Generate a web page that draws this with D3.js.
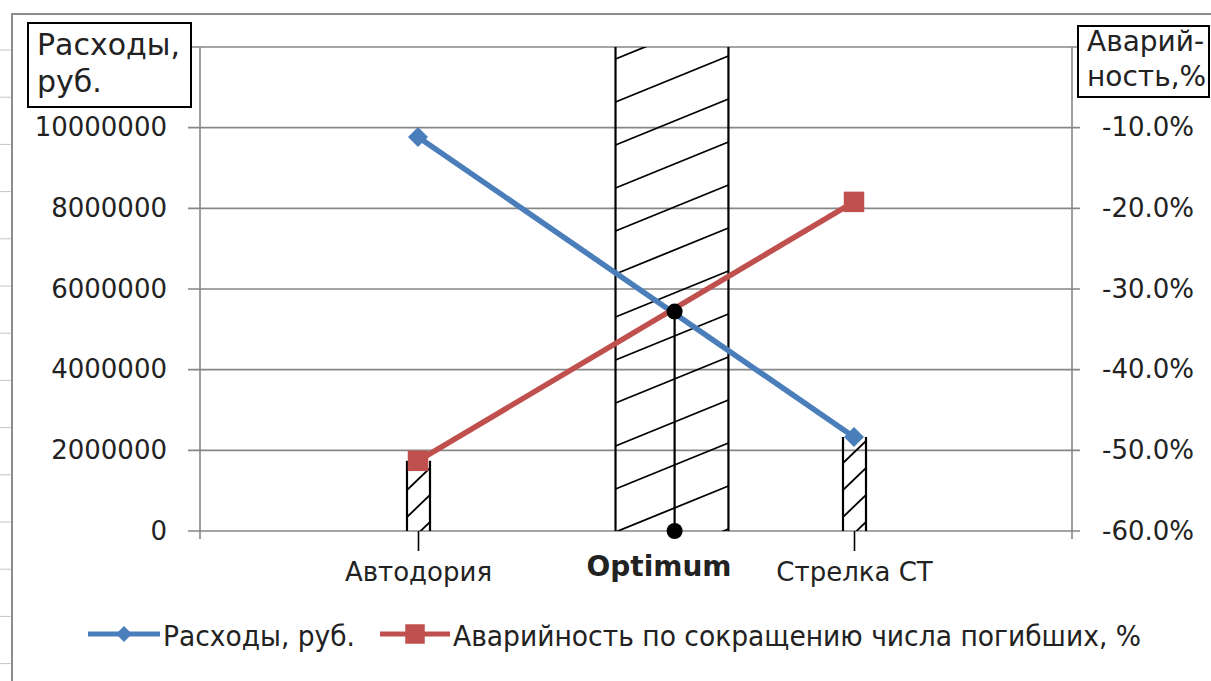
<!DOCTYPE html>
<html>
<head>
<meta charset="utf-8">
<script src="https://cdn.jsdelivr.net/npm/d3@7"></script>
<style>
  body { margin: 0; background: #fff; }
  svg { display: block; }
  text { font-family: "DejaVu Sans", sans-serif; fill: #222; }
</style>
</head>
<body>
<svg id="chart" width="1211" height="681"></svg>
<script>
// data
const categories = ['Автодория', 'Стрелка СТ'];
const costs = [9770000, 2330000];          // Расходы, руб.
const accidentRate = [-0.513, -0.192];      // Аварийность, доля
const costTicks = [0, 2000000, 4000000, 6000000, 8000000, 10000000];
const costGrid = [0, 2000000, 4000000, 6000000, 8000000, 10000000, 12000000];
const rateTicks = [-0.6, -0.5, -0.4, -0.3, -0.2, -0.1];
const optimumBand = [0.453, 0.712];        // in category-index units
const optimumLabel = 'Optimum';
const leftTitle = ['Расходы,', 'руб.'];
const rightTitle = ['Аварий-', 'ность,%'];
const legendLabels = ['Расходы, руб.', 'Аварийность по сокращению числа погибших, %'];

const BLUE = '#4a7ebb', RED = '#c0504d', GRID = '#878787';

const svg = d3.select('#chart');
const plot = { left: 200, right: 1072, top: 47, bottom: 531 };

/**
 * scales
 */
const x = d3.scalePoint()
    .domain(categories)
    .range([plot.left, plot.right])
    .padding(0.5);

const xi = d3.scaleLinear()
    .domain([0, 1])
    .range([x(categories[0]), x(categories[1])]);

const yCost = d3.scaleLinear()
    .domain([0, 12000000])
    .range([plot.bottom, plot.top]);

const yRate = d3.scaleLinear()
    .domain([-0.6, 0])
    .range([plot.bottom, plot.top]);

// spreadsheet background: frame and row marks on the left
svg.append('g')
    .attr('stroke', '#c4c4c4')
    .selectAll('line')
    .data(d3.range(50, 681, 47.2))
    .join('line')
    .attr('x1', 0).attr('x2', 11)
    .attr('y1', d => d).attr('y2', d => d);

svg.append('path')
    .attr('d', 'M12,681V14H1211')
    .attr('fill', 'none')
    .attr('stroke', '#8c8c8c')
    .attr('stroke-width', 2);

// gridlines (with the little outside ticks on both sides)
svg.append('g')
    .attr('stroke', GRID)
    .attr('stroke-width', 1.6)
    .selectAll('line')
    .data(costGrid)
    .join('line')
    .attr('x1', plot.left - 12)
    .attr('x2', plot.right + 8)
    .attr('y1', d => yCost(d))
    .attr('y2', d => yCost(d));

// axis lines
svg.append('g')
    .attr('stroke', GRID)
    .attr('stroke-width', 1.6)
    .selectAll('line')
    .data([plot.left, plot.right])
    .join('line')
    .attr('x1', d => d).attr('x2', d => d)
    .attr('y1', plot.top).attr('y2', plot.bottom + 8);

/**
 * Axis labels
 */
const leftAxis = svg.append('g')
    .attr('transform', `translate(${plot.left},0)`)
    .call(d3.axisLeft(yCost).tickValues(costTicks).tickSize(0).tickPadding(33).tickFormat(d3.format('d')));

const rightAxis = svg.append('g')
    .attr('transform', `translate(${plot.right},0)`)
    .call(d3.axisRight(yRate).tickValues(rateTicks).tickSize(0)
        .tickPadding(30)
        .tickFormat(d => d3.format('.1%')(d).replace('\u2212', '-')));

const bottomAxis = svg.append('g')
    .attr('transform', `translate(0,${plot.bottom})`)
    .call(d3.axisBottom(x).tickSize(20).tickPadding(12));

[leftAxis, rightAxis, bottomAxis].forEach(a => {
    a.select('.domain').remove();
    a.selectAll('text')
        .style('font-family', '"DejaVu Sans", sans-serif')
        .style('font-size', '26px')
        .attr('fill', '#222');
});
bottomAxis.selectAll('line').attr('stroke', '#000').attr('stroke-width', 1.6);

/**
 * Hatched areas
 */
function hatched(x0, x1, yTop, yBottom, firstY, step, rise, id) {
    const g = svg.append('g');
    g.append('clipPath').attr('id', id)
        .append('rect')
        .attr('x', x0).attr('y', yTop)
        .attr('width', x1 - x0).attr('height', yBottom - yTop);
    const starts = [];
    for (let y = firstY; y - rise > yTop - step; y -= step) starts.push(y);
    for (let y = firstY + step; y - rise < yBottom; y += step) starts.push(y);
    g.append('g')
        .attr('clip-path', `url(#${id})`)
        .attr('stroke', '#000')
        .attr('stroke-width', 1.8)
        .selectAll('line')
        .data(starts)
        .join('line')
        .attr('x1', x0).attr('y1', d => d)
        .attr('x2', x1).attr('y2', d => d - rise);
    g.append('g')
        .attr('stroke', '#000')
        .attr('stroke-width', 2.2)
        .selectAll('line')
        .data([x0, x1])
        .join('line')
        .attr('x1', d => d).attr('x2', d => d)
        .attr('y1', yTop).attr('y2', yBottom);
}

// optimum band
hatched(xi(optimumBand[0]), xi(optimumBand[1]), plot.top, plot.bottom, 59, 43, 46, 'clip-opt');

// narrow bars under the lower point of each category
categories.forEach((c, i) => {
    const lower = Math.max(yCost(costs[i]), yRate(accidentRate[i]));
    const cx = x(c);
    hatched(cx - 11, cx + 12, lower, plot.bottom, plot.bottom - 14, 27, 22, 'clip-bar' + i);
});

/**
 * Series lines
 */
const costPts = categories.map((c, i) => [x(c), yCost(costs[i])]);
const ratePts = categories.map((c, i) => [x(c), yRate(accidentRate[i])]);

const line = d3.line();
svg.append('path')
    .attr('d', line(costPts))
    .attr('fill', 'none')
    .attr('stroke', BLUE)
    .attr('stroke-width', 5.5);

svg.append('path')
    .attr('d', line(ratePts))
    .attr('fill', 'none')
    .attr('stroke', RED)
    .attr('stroke-width', 5.5);

// intersection of the two lines -> optimum point
const a1 = (costPts[1][1] - costPts[0][1]) / (costPts[1][0] - costPts[0][0]);
const a2 = (ratePts[1][1] - ratePts[0][1]) / (ratePts[1][0] - ratePts[0][0]);
const ix = costPts[0][0] + (ratePts[0][1] - costPts[0][1]) / (a1 - a2) + 4;
const iy = costPts[0][1] + a1 * (ix - costPts[0][0]) - 2;

svg.append('line')
    .attr('x1', ix).attr('x2', ix)
    .attr('y1', iy).attr('y2', plot.bottom)
    .attr('stroke', '#000')
    .attr('stroke-width', 2.2);

svg.append('g')
    .selectAll('circle')
    .data([iy, plot.bottom])
    .join('circle')
    .attr('cx', ix)
    .attr('cy', d => d)
    .attr('r', 8)
    .attr('fill', '#000');

// markers
const diamond = d3.symbol().type(d3.symbolSquare).size(200);
const square = d3.symbol().type(d3.symbolSquare).size(420);

svg.append('g')
    .selectAll('path')
    .data(costPts)
    .join('path')
    .attr('d', diamond)
    .attr('transform', d => `translate(${d[0]},${d[1]}) rotate(45)`)
    .attr('fill', BLUE);

svg.append('g')
    .selectAll('path')
    .data(ratePts)
    .join('path')
    .attr('d', square)
    .attr('transform', d => `translate(${d[0]},${d[1]})`)
    .attr('fill', RED);

// Optimum label
svg.append('text')
    .attr('x', xi((optimumBand[0] + optimumBand[1]) / 2) - 13)
    .attr('y', 576)
    .attr('text-anchor', 'middle')
    .style('font-size', '28px')
    .style('font-weight', 'bold')
    .text(optimumLabel);

/**
 * Axis title boxes
 */
function titleBox(bx, by, bw, bh, lines, tx, baselines, size) {
    svg.append('rect')
        .attr('x', bx).attr('y', by)
        .attr('width', bw).attr('height', bh)
        .attr('fill', '#fff')
        .attr('stroke', '#000')
        .attr('stroke-width', 2);
    svg.append('g')
        .selectAll('text')
        .data(lines)
        .join('text')
        .attr('x', tx)
        .attr('y', (d, i) => baselines[i])
        .style('font-size', size + 'px')
        .text(d => d);
}
titleBox(28, 23, 163, 84, leftTitle, 37, [55, 92], 30);
titleBox(1078, 26, 131, 71, rightTitle, 1087, [51, 86], 28);

/**
 * Legend
 */
const legend = svg.append('g');
legend.append('line')
    .attr('x1', 88).attr('x2', 160).attr('y1', 634).attr('y2', 634)
    .attr('stroke', BLUE).attr('stroke-width', 5);
legend.append('path')
    .attr('d', d3.symbol().type(d3.symbolSquare).size(130))
    .attr('transform', 'translate(124,634) rotate(45)')
    .attr('fill', BLUE);
legend.append('line')
    .attr('x1', 380).attr('x2', 450).attr('y1', 634).attr('y2', 634)
    .attr('stroke', RED).attr('stroke-width', 5);
legend.append('path')
    .attr('d', d3.symbol().type(d3.symbolSquare).size(380))
    .attr('transform', 'translate(415,634)')
    .attr('fill', RED);

legend.selectAll('text')
    .data(legendLabels)
    .join('text')
    .attr('x', (d, i) => [163, 453][i])
    .attr('y', 646)
    .attr('textLength', (d, i) => [192, 688][i])
    .attr('lengthAdjust', 'spacingAndGlyphs')
    .style('font-family', '"DejaVu Sans Condensed", "DejaVu Sans", sans-serif')
    .style('font-size', '29px')
    .text(d => d);
</script>
</body>
</html>
